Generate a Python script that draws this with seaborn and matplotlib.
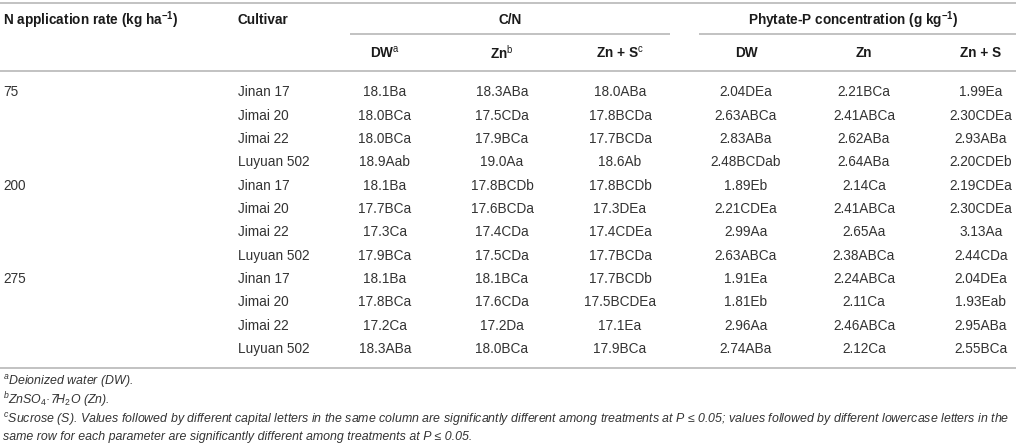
import matplotlib
matplotlib.use("Agg")
import matplotlib.pyplot as plt
import seaborn as sns

# table content
rates = ["75", "200", "275"]
cultivars = ["Jinan 17", "Jimai 20", "Jimai 22", "Luyuan 502"]
cn_dw = ["18.1Ba", "18.0BCa", "18.0BCa", "18.9Aab",
         "18.1Ba", "17.7BCa", "17.3Ca", "17.9BCa",
         "18.1Ba", "17.8BCa", "17.2Ca", "18.3ABa"]
cn_zn = ["18.3ABa", "17.5CDa", "17.9BCa", "19.0Aa",
         "17.8BCDb", "17.6BCDa", "17.4CDa", "17.5CDa",
         "18.1BCa", "17.6CDa", "17.2Da", "18.0BCa"]
cn_zns = ["18.0ABa", "17.8BCDa", "17.7BCDa", "18.6Ab",
          "17.8BCDb", "17.3DEa", "17.4CDEa", "17.7BCDa",
          "17.7BCDb", "17.5BCDEa", "17.1Ea", "17.9BCa"]
pp_dw = ["2.04DEa", "2.63ABCa", "2.83ABa", "2.48BCDab",
         "1.89Eb", "2.21CDEa", "2.99Aa", "2.63ABCa",
         "1.91Ea", "1.81Eb", "2.96Aa", "2.74ABa"]
pp_zn = ["2.21BCa", "2.41ABCa", "2.62ABa", "2.64ABa",
         "2.14Ca", "2.41ABCa", "2.65Aa", "2.38ABCa",
         "2.24ABCa", "2.11Ca", "2.46ABCa", "2.12Ca"]
pp_zns = ["1.99Ea", "2.30CDEa", "2.93ABa", "2.20CDEb",
          "2.19CDEa", "2.30CDEa", "3.13Aa", "2.44CDa",
          "2.04DEa", "1.93Eab", "2.95ABa", "2.55BCa"]
sub_headers = ["DW$^{\\mathrm{a}}$", "Zn$^{\\mathrm{b}}$", "Zn + S$^{\\mathrm{c}}$",
               "DW", "Zn", "Zn + S"]
footnotes = [
    "$^{a}$Deionized water (DW).",
    "$^{b}$ZnSO$_{\\mathit{4}}$\u00b77H$_{\\mathit{2}}$O (Zn).",
    "$^{c}$Sucrose (S). Values followed by different capital letters in the same column are "
    "significantly different among treatments at P \u2264 0.05; values followed by different "
    "lowercase letters in the",
    "same row for each parameter are significantly different among treatments at P \u2264 0.05.",
]

sns.set_theme(style="white")
plt.rcParams["font.family"] = ["Liberation Sans", "DejaVu Sans"]
plt.rcParams["mathtext.fontset"] = "custom"
plt.rcParams["mathtext.rm"] = "Liberation Sans"
plt.rcParams["mathtext.it"] = "Liberation Sans:italic"
plt.rcParams["mathtext.bf"] = "Liberation Sans:bold"

W, H = 1016, 447
fig = plt.figure(figsize=(W / 100, H / 100), dpi=100)
ax = fig.add_axes([0, 0, 1, 1])
ax.set_xlim(0, W)
ax.set_ylim(H, 0)
ax.axis("off")

line_c = "#bdbdbd"
body_c = "#333333"
head_c = "#1a1a1a"
fs = 9.8

# rules
for y, x0, x1 in [(3, 0, W), (34, 350, 670), (34, 699, W), (71, 0, W), (368, 0, W)]:
    ax.plot([x0, x1], [y, y], color=line_c, lw=1.3, solid_capstyle="butt")

# headers
ax.text(3, 20, "N application rate (kg ha$^{\\mathbf{-1}}$)", fontsize=fs,
        fontweight="bold", color=head_c, va="center", ha="left")
ax.text(238, 20, "Cultivar", fontsize=fs, fontweight="bold", color=head_c,
        va="center", ha="left")
ax.text(510, 20, "C/N", fontsize=fs, fontweight="bold", color=head_c,
        va="center", ha="center")
ax.text(853, 20, "Phytate-P concentration (g kg$^{\\mathbf{-1}}$)", fontsize=fs,
        fontweight="bold", color=head_c, va="center", ha="center")

col_x = [385, 502, 620, 746, 864, 981]
for x, lab in zip(col_x, sub_headers):
    ax.text(x, 53, lab, fontsize=fs, fontweight="bold", color=head_c,
            va="center", ha="center")

# body
y0, dy = 92.5, 23.3
columns = [cn_dw, cn_zn, cn_zns, pp_dw, pp_zn, pp_zns]
for i in range(len(cn_dw)):
    y = y0 + i * dy
    if i % len(cultivars) == 0:
        ax.text(3, y, rates[i // len(cultivars)], fontsize=fs, color=body_c,
                va="center", ha="left")
    ax.text(238, y, cultivars[i % len(cultivars)], fontsize=fs, color=body_c,
            va="center", ha="left")
    for x, col in zip(col_x, columns):
        ax.text(x, y, col[i], fontsize=fs, color=body_c, va="center", ha="center")

# footnotes
for y, note in zip([381, 400, 420, 437], footnotes):
    ax.text(3, y, note, fontsize=8.9, style="italic", color=body_c,
            va="center", ha="left")

fig.savefig("out.png", dpi=100)
